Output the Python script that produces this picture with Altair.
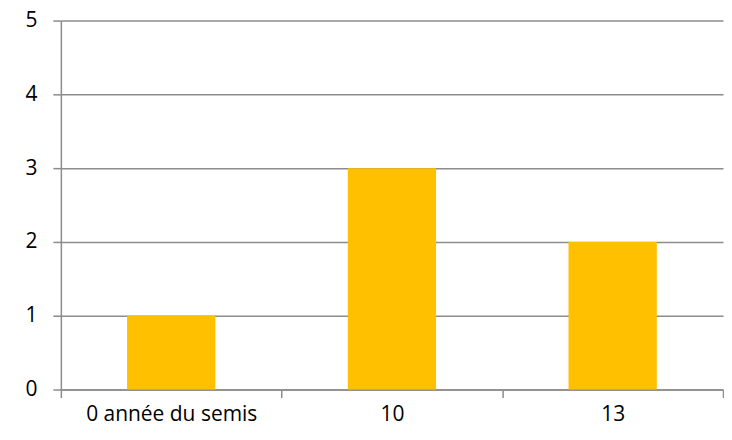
import altair as alt
import pandas as pd

categories = ["0 année du semis", "10", "13"]
values = [1, 3, 2]

df = pd.DataFrame({"cat": categories, "val": values})

FONT = "Open Sans"
GRAY = "#8c8c8c"

chart = alt.Chart(df).mark_bar(color="#FFC000", width={"band": 0.4}).encode(
    x=alt.X("cat:N", sort=categories, title=None,
            scale=alt.Scale(paddingInner=0, paddingOuter=0),
            axis=alt.Axis(labelAngle=0, tickBand="extent", tickSize=8,
                          domainColor=GRAY, tickColor=GRAY, labelColor="#000000",
                          labelFont=FONT, labelFontSize=21, labelPadding=6,
                          grid=False)),
    y=alt.Y("val:Q", title=None,
            scale=alt.Scale(domain=[0, 5]),
            axis=alt.Axis(values=[0, 1, 2, 3, 4, 5], tickSize=8, labelPadding=16,
                          domainColor=GRAY, tickColor=GRAY, gridColor=GRAY,
                          labelColor="#000000", labelFont=FONT, labelFontSize=21,
                          grid=True)),
).properties(
    width=664, height=370,
    autosize=alt.AutoSizeParams(type="pad"),
    padding={"left": 16, "top": 1, "right": 0, "bottom": 8},
).configure_view(stroke=None).configure_axis(domainWidth=1.5, tickWidth=1.5, gridWidth=1.5)

chart.save("out.html", embed_options={"renderer": "svg", "actions": False})
